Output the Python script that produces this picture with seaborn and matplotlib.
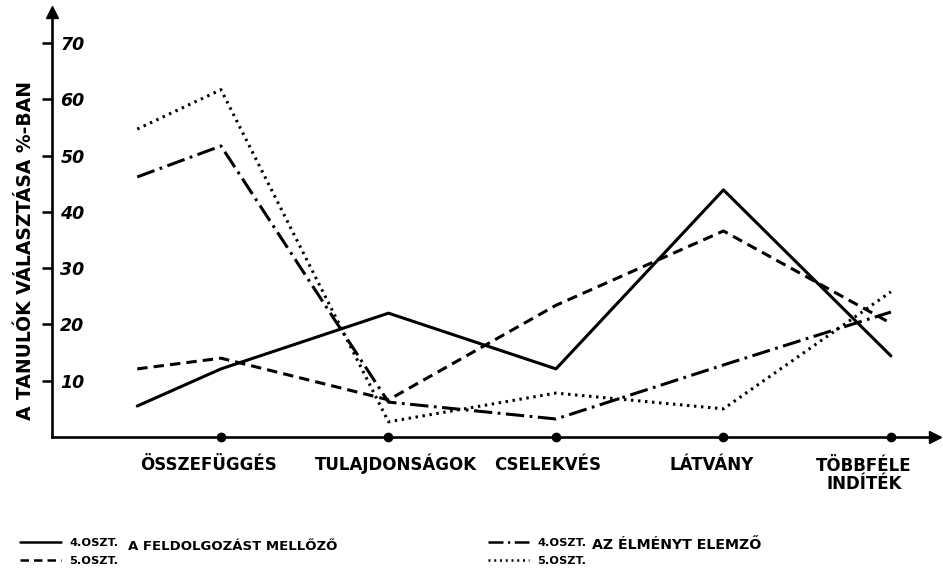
import matplotlib
matplotlib.use('Agg')
import matplotlib.pyplot as plt
import matplotlib.transforms as mtransforms
import seaborn as sns

# kategóriák az x tengelyen
categories = ['ÖSSZEFÜGGÉS', 'TULAJDONSÁGOK', 'CSELEKVÉS', 'LÁTVÁNY', 'TÖBBFÉLE\nINDÍTÉK']
# a vonalak egy fél lépéssel az első kategória előtt indulnak
x_points = [-0.5, 0, 1, 2, 3, 4]

# A feldolgozást mellőző
mellozo_4 = [5.5, 12.1, 22.0, 12.1, 43.9, 14.4]
mellozo_5 = [12.1, 14.0, 6.6, 23.4, 36.6, 20.2]
# Az élményt elemző
elemzo_4 = [46.2, 51.7, 6.2, 3.2, 12.8, 22.2]
elemzo_5 = [54.7, 61.7, 2.7, 7.8, 5.0, 25.8]

y_ticks = [10, 20, 30, 40, 50, 60, 70]

sns.set_style('white')
plt.rcParams['font.family'] = ['DejaVu Sans']
plt.rcParams['text.color'] = 'black'
plt.rcParams['axes.labelcolor'] = 'black'
plt.rcParams['xtick.color'] = 'black'
plt.rcParams['ytick.color'] = 'black'

fig = plt.figure(figsize=(9.43, 5.70), dpi=100)
ax = fig.add_axes([52 / 943, 133 / 570, 883 / 943, 425 / 570])

lw = 2.2
sns.lineplot(x=x_points, y=mellozo_4, ax=ax, color='black', lw=lw, linestyle='-')
sns.lineplot(x=x_points, y=mellozo_5, ax=ax, color='black', lw=lw, linestyle=(0, (3.4, 2.0)))
sns.lineplot(x=x_points, y=elemzo_4, ax=ax, color='black', lw=lw, linestyle=(0, (6, 1.8, 0.9, 1.8)))
sns.lineplot(x=x_points, y=elemzo_5, ax=ax, color='black', lw=lw, linestyle=(0, (0.8, 1.5)))
handles = list(ax.lines)

# kategória pontok a tengelyen
ax.plot(range(len(categories)), [0] * len(categories), 'o', color='black', ms=6, clip_on=False, zorder=5)

ax.set_xlim(-1.009, 4.263)
ax.set_ylim(0, 75.5)

for s in ['top', 'right']:
    ax.spines[s].set_visible(False)
for s in ['left', 'bottom']:
    ax.spines[s].set_linewidth(1.9)
    ax.spines[s].set_color('black')

# nyilak
ax.plot(1, 0, '>', color='black', ms=9, transform=ax.transAxes, clip_on=False)
ax.plot(0, 1, '^', color='black', ms=9, transform=ax.transAxes, clip_on=False)

ax.set_xticks(range(len(categories)))
ax.set_xticklabels(categories, fontsize=12, fontweight='bold', linespacing=1.05)
ax.tick_params(axis='x', length=0, pad=24)
# a kézzel írt feliratok kissé balra csúsznak a pontokhoz képest
label_shift = [(-12, 0), (7, 0), (-8, 0), (-12, 0), (-27, -19)]
for lab, (dx, dy) in zip(ax.get_xticklabels(), label_shift):
    lab.set_verticalalignment('baseline')
    lab.set_transform(lab.get_transform()
                      + mtransforms.ScaledTranslation(dx / 100, dy / 100, fig.dpi_scale_trans))

ax.set_yticks(y_ticks)
ax.set_yticklabels([str(t) for t in y_ticks], fontsize=12.5, fontweight='bold', fontstyle='italic')
ax.tick_params(axis='y', direction='out', length=7, width=1.8, left=True, pad=-13)
for lab in ax.get_yticklabels():
    lab.set_horizontalalignment('left')

ax.set_ylabel('A TANULÓK VÁLASZTÁSA %-BAN', fontsize=13.5, fontweight='bold')
ax.yaxis.set_label_coords(-0.019, 0.44)

# jelmagyarázat
leg_kw = dict(frameon=False, handlelength=3.6, handletextpad=0.7,
              labelspacing=0.7, borderpad=0, borderaxespad=0, loc='upper left',
              prop={'weight': 'bold', 'size': 8.2})
leg1 = fig.legend([handles[0], handles[1]], ['4.OSZT.', '5.OSZT.'],
                  bbox_to_anchor=(20 / 943, 1 - 538 / 570), **leg_kw)
leg2 = fig.legend([handles[2], handles[3]], ['4.OSZT.', '5.OSZT.'],
                  bbox_to_anchor=(488 / 943, 1 - 538 / 570), **leg_kw)
for leg in (leg1, leg2):
    for ln in leg.get_lines():
        ln.set_linewidth(1.8)

fig.text(128 / 943, 1 - 547 / 570, 'A FELDOLGOZÁST MELLŐZŐ', fontsize=9.5,
         fontweight='bold', va='center', ha='left')
fig.text(592 / 943, 1 - 545 / 570, 'AZ ÉLMÉNYT ELEMZŐ', fontsize=10.2,
         fontweight='bold', va='center', ha='left')

fig.savefig('out.png', dpi=100)
